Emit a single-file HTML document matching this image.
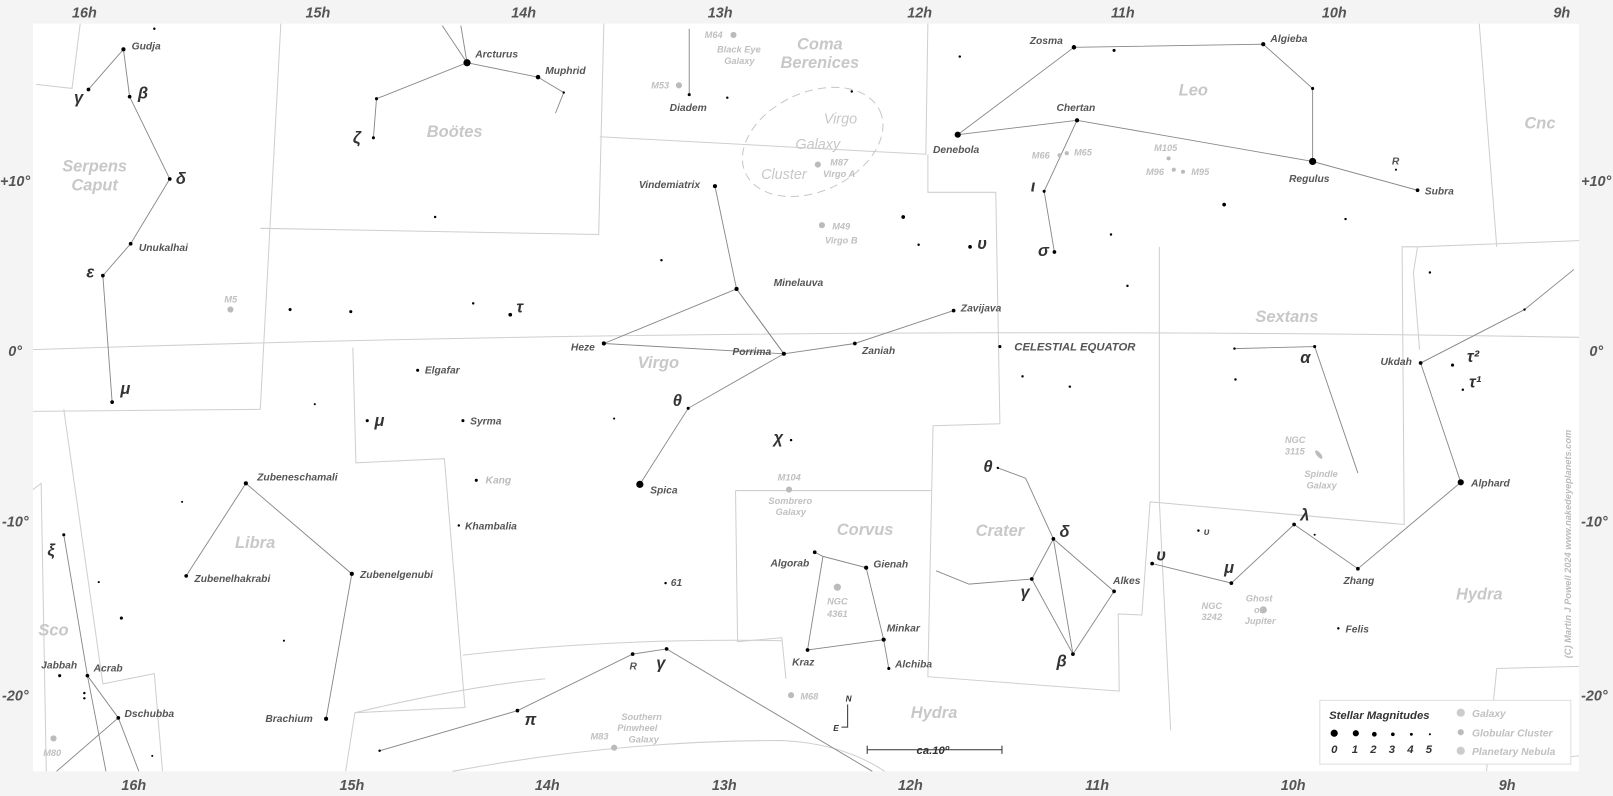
<!DOCTYPE html>
<html><head><meta charset="utf-8"><style>
html,body{margin:0;padding:0;background:#f4f4f4}
svg{display:block}
text{font-family:"Liberation Sans",sans-serif;font-style:italic;font-weight:bold}
.ax{font-size:14px;fill:#555}
.s{font-size:10px;fill:#555}
.c{font-size:16px;fill:#c8c8c8}
.g{font-size:9px;fill:#c0c0c0}
.gr{font-family:"Liberation Serif",serif;font-weight:normal;font-size:16px;fill:#333}
.b{stroke:#cfcfcf;stroke-width:1;fill:none}
.l{stroke:#888;stroke-width:0.9;fill:none}
</style></head><body>
<svg width="1613" height="796" viewBox="0 0 1568 774" preserveAspectRatio="none">
<rect x="0" y="0" width="1568" height="774" fill="#f4f4f4"/>
<rect x="32" y="23" width="1503" height="727" fill="#fff"/>
<!-- axis labels -->
<g class="ax">
<text x="70" y="17">16h</text><text x="297" y="17">15h</text><text x="497" y="17">14h</text><text x="688" y="17">13h</text><text x="882" y="17">12h</text><text x="1080" y="17">11h</text><text x="1285" y="17">10h</text><text x="1510" y="17">9h</text>
<text x="118" y="768">16h</text><text x="330" y="768">15h</text><text x="520" y="768">14h</text><text x="692" y="768">13h</text><text x="873" y="768">12h</text><text x="1055" y="768">11h</text><text x="1245" y="768">10h</text><text x="1457" y="768">9h</text>
<text x="0" y="181">+10°</text><text x="8" y="346">0°</text><text x="2" y="512">-10°</text><text x="2" y="681">-20°</text>
<text x="1537" y="181">+10°</text><text x="1545" y="346">0°</text><text x="1537" y="512">-10°</text><text x="1537" y="681">-20°</text>
</g>
<!-- constellation boundaries -->
<g class="b">
<path d="M32,340 Q780,315 1535,328"/>
<path d="M35,82 L70,86 L78,23"/>
<path d="M273,23 L253,398 L32,400"/>
<path d="M253,222 L582,228 L587,23"/>
<path d="M583,133 L900,150 L902,23"/>
<path d="M902,150 L902,187 L968,187 L972,412 L907,414 L902,658 L1088,672 L1087,597 L1110,598 L1118,488 L1365,510 L1363,240 L1378,240 L1535,234"/>
<path d="M1127,240 L1127,488 L1138,710"/>
<path d="M1378,240 L1374,265 L1380,340"/>
<path d="M1438,23 L1455,240"/>
<path d="M343,338 L346,450 L432,446 L452,688 L345,693 L336,750"/>
<path d="M62,398 L100,665 L150,655 L158,750"/>
<path d="M32,476 L40,470 L45,750"/>
<path d="M715,477 L905,477"/>
<path d="M715,477 L717,624 L760,620 L764,660"/>
<path d="M450,637 Q600,620 760,623"/>
<path d="M345,693 Q450,668 530,660"/>
<path d="M440,750 Q600,720 760,720 Q820,723 860,750"/>
<path d="M1455,650 L1535,648"/>
<path d="M1455,650 L1445,750"/>
<path d="M1480,740 L1535,735"/>
</g>
<!-- Virgo cluster ellipse -->
<ellipse cx="790" cy="138" rx="72" ry="48" transform="rotate(-25 790 138)" fill="none" stroke="#c8c8c8" stroke-dasharray="8,5"/>
<!-- constellation lines -->
<g class="l">
<path d="M86,87 L120,48 L126,94 L165,174 L127,237 L100,268 L109,391"/>
<path d="M363,134 L366,96 L454,61 L523,75 L548,90 L540,110"/>
<path d="M454,61 L430,25"/><path d="M454,61 L448,25"/>
<path d="M670,28 L670,92"/>
<path d="M931,131 L1044,46 L1228,43 L1276,86 L1276,157 L1378,185"/>
<path d="M931,131 L1047,117 L1276,157"/>
<path d="M1047,117 L1015,186 L1025,245"/>
<path d="M695,181 L716,281 L762,344 L587,334"/>
<path d="M716,281 L762,344"/>
<path d="M587,334 L716,281"/>
<path d="M762,344 L831,334 L927,302"/>
<path d="M762,344 L669,397 L622,471"/>
<path d="M792,537 L800,541 L842,552 L859,622 L864,650"/>
<path d="M800,541 L785,632 L859,622"/>
<path d="M970,455 L997,465 L1024,524 L1043,636 L1003,563 L942,568 L910,555"/>
<path d="M1024,524 L1083,575 L1043,636"/>
<path d="M1003,563 L1024,524"/>
<path d="M1200,339 L1278,337 L1320,460"/>
<path d="M1120,548 L1197,567 L1258,510 L1320,553 L1420,469 L1381,353 L1482,301 L1530,262"/>
<path d="M239,470 L181,560"/><path d="M239,470 L342,558 L317,699"/>
<path d="M62,520 L85,657 L103,750"/>
<path d="M85,657 L115,698 L55,750"/>
<path d="M115,698 L135,750"/>
<path d="M369,730 L503,691 L615,636 L648,631 L848,750"/>
</g>
<!-- stars -->
<g fill="#000">
<circle cx="120" cy="48" r="2"/><circle cx="86" cy="87" r="1.8"/><circle cx="126" cy="94" r="1.8"/><circle cx="165" cy="174" r="1.8"/><circle cx="127" cy="237" r="1.8"/><circle cx="100" cy="268" r="1.8"/><circle cx="109" cy="391" r="1.8"/><circle cx="150" cy="28" r="1.2"/>
<circle cx="454" cy="61" r="3.5"/><circle cx="523" cy="75" r="2.2"/><circle cx="548" cy="90" r="1.2"/><circle cx="366" cy="96" r="1.5"/><circle cx="363" cy="134" r="1.5"/><circle cx="423" cy="211" r="1.2"/>
<circle cx="670" cy="92" r="1.5"/><circle cx="707" cy="95" r="1.2"/><circle cx="828" cy="89" r="1.2"/><circle cx="933" cy="55" r="1.2"/>
<circle cx="931" cy="131" r="3"/><circle cx="1044" cy="46" r="2.2"/><circle cx="1083" cy="49" r="1.5"/><circle cx="1228" cy="43" r="2"/><circle cx="1276" cy="86" r="1.5"/><circle cx="1276" cy="157" r="3.5"/><circle cx="1378" cy="185" r="1.8"/><circle cx="1357" cy="165" r="1"/><circle cx="1047" cy="117" r="2"/><circle cx="1015" cy="186" r="1.5"/><circle cx="1025" cy="245" r="1.8"/><circle cx="1190" cy="199" r="1.8"/><circle cx="1308" cy="213" r="1.2"/><circle cx="1080" cy="228" r="1.2"/><circle cx="1096" cy="278" r="1.2"/><circle cx="1390" cy="265" r="1.2"/>
<circle cx="695" cy="181" r="2"/><circle cx="716" cy="281" r="2"/><circle cx="587" cy="334" r="2"/><circle cx="762" cy="344" r="2"/><circle cx="831" cy="334" r="1.8"/><circle cx="927" cy="302" r="1.8"/><circle cx="669" cy="397" r="1.5"/><circle cx="622" cy="471" r="3.5"/><circle cx="878" cy="211" r="1.8"/><circle cx="893" cy="238" r="1.2"/><circle cx="943" cy="240" r="1.8"/><circle cx="643" cy="253" r="1.2"/><circle cx="496" cy="306" r="1.8"/><circle cx="460" cy="295" r="1.2"/><circle cx="341" cy="303" r="1.5"/><circle cx="282" cy="301" r="1.5"/><circle cx="406" cy="360" r="1.5"/><circle cx="357" cy="409" r="1.5"/><circle cx="450" cy="409" r="1.5"/><circle cx="306" cy="393" r="1"/><circle cx="597" cy="407" r="1"/><circle cx="769" cy="428" r="1.2"/><circle cx="463" cy="467" r="1.5"/><circle cx="446" cy="511" r="1.2"/><circle cx="647" cy="567" r="1.2"/>
<circle cx="972" cy="337" r="1.5"/><circle cx="994" cy="366" r="1.2"/><circle cx="1040" cy="376" r="1.2"/><circle cx="1200" cy="339" r="1.2"/><circle cx="1278" cy="337" r="1.5"/><circle cx="1201" cy="369" r="1.2"/><circle cx="1381" cy="353" r="1.8"/><circle cx="1412" cy="355" r="1.5"/><circle cx="1422" cy="379" r="1.2"/><circle cx="1482" cy="301" r="1.2"/><circle cx="1420" cy="469" r="3"/>
<circle cx="792" cy="537" r="1.8"/><circle cx="842" cy="552" r="2"/><circle cx="859" cy="622" r="2"/><circle cx="785" cy="632" r="1.8"/><circle cx="864" cy="650" r="1.5"/>
<circle cx="970" cy="455" r="1.2"/><circle cx="1024" cy="524" r="1.8"/><circle cx="1003" cy="563" r="1.8"/><circle cx="1083" cy="575" r="1.8"/><circle cx="1043" cy="636" r="1.8"/>
<circle cx="1120" cy="548" r="1.8"/><circle cx="1197" cy="567" r="1.8"/><circle cx="1258" cy="510" r="1.8"/><circle cx="1278" cy="520" r="1"/><circle cx="1320" cy="553" r="1.8"/><circle cx="1301" cy="611" r="1.2"/><circle cx="1165" cy="516" r="1.2"/>
<circle cx="239" cy="470" r="2"/><circle cx="181" cy="560" r="1.8"/><circle cx="342" cy="558" r="2"/><circle cx="317" cy="699" r="2"/><circle cx="177" cy="488" r="1"/><circle cx="96" cy="566" r="1"/><circle cx="118" cy="601" r="1.5"/><circle cx="276" cy="623" r="1"/>
<circle cx="62" cy="520" r="1.5"/><circle cx="85" cy="657" r="1.8"/><circle cx="58" cy="657" r="1.5"/><circle cx="115" cy="698" r="1.8"/><circle cx="82" cy="674" r="1.2"/><circle cx="82" cy="679" r="1.2"/><circle cx="148" cy="735" r="1"/>
<circle cx="615" cy="636" r="1.8"/><circle cx="648" cy="631" r="1.8"/><circle cx="503" cy="691" r="1.8"/><circle cx="369" cy="730" r="1.2"/>
</g>
<!-- deep sky -->
<g fill="#bbb">
<circle cx="713" cy="34" r="3"/><circle cx="660" cy="83" r="3"/><circle cx="795" cy="160" r="3"/><circle cx="799" cy="219" r="3"/><circle cx="224" cy="301" r="3"/><circle cx="1030" cy="151" r="2"/><circle cx="1037" cy="149" r="2"/><circle cx="1136" cy="154" r="2"/><circle cx="1141" cy="165" r="2"/><circle cx="1150" cy="167" r="2"/><circle cx="767" cy="476" r="3"/><circle cx="814" cy="571" r="3.5"/><circle cx="769" cy="676" r="3"/><circle cx="597" cy="727" r="3"/><circle cx="1228" cy="593" r="3.5"/><circle cx="52" cy="718" r="3"/><ellipse cx="1282" cy="442" rx="2" ry="5" transform="rotate(-40 1282 442)"/>
</g>
<!-- star labels -->
<g class="s">
<text x="128" y="48">Gudja</text><text x="135" y="244">Unukalhai</text><text x="462" y="56">Arcturus</text><text x="530" y="72">Muphrid</text>
<text x="651" y="108">Diadem</text><text x="621" y="183">Vindemiatrix</text><text x="752" y="278">Minelauva</text><text x="555" y="341">Heze</text><text x="712" y="345">Porrima</text><text x="838" y="344">Zaniah</text><text x="934" y="303">Zavijava</text><text x="632" y="480">Spica</text><text x="413" y="363">Elgafar</text><text x="457" y="413">Syrma</text><text x="452" y="515">Khambalia</text><text x="652" y="570">61</text>
<text x="1001" y="43">Zosma</text><text x="1235" y="41">Algieba</text><text x="907" y="149">Denebola</text><text x="1027" y="108">Chertan</text><text x="1253" y="177">Regulus</text><text x="1385" y="189">Subra</text>
<text x="1342" y="355">Ukdah</text><text x="1430" y="473">Alphard</text><text x="1306" y="568">Zhang</text><text x="1308" y="615">Felis</text>
<text x="749" y="551">Algorab</text><text x="849" y="552">Gienah</text><text x="862" y="614">Minkar</text><text x="770" y="647">Kraz</text><text x="870" y="649">Alchiba</text><text x="1082" y="568">Alkes</text>
<text x="250" y="467">Zubeneschamali</text><text x="189" y="566">Zubenelhakrabi</text><text x="350" y="562">Zubenelgenubi</text><text x="258" y="702">Brachium</text>
<text x="40" y="650">Jabbah</text><text x="91" y="653">Acrab</text><text x="121" y="697">Dschubba</text>
<text x="986" y="341" style="font-size:11px">CELESTIAL EQUATOR</text>
<text x="612" y="651">R</text><text x="1353" y="160">R</text>
</g>
<g class="s" style="fill:#bbb"><text x="472" y="470">Kang</text><text x="1170" y="520" style="fill:#555">υ</text></g>
<!-- Greek -->
<g class="gr">
<text x="72" y="100">γ</text><text x="134" y="96">β</text><text x="171" y="179">δ</text><text x="84" y="270">ε</text><text x="117" y="383">μ</text>
<text x="343" y="139">ζ</text><text x="502" y="304">τ</text><text x="364" y="414">μ</text><text x="654" y="395">θ</text><text x="752" y="431">χ</text><text x="950" y="242">υ</text>
<text x="1002" y="186">ι</text><text x="1009" y="249">σ</text><text x="1264" y="353">α</text><text x="1426" y="352">τ²</text><text x="1428" y="377">τ¹</text>
<text x="956" y="459">θ</text><text x="1030" y="522">δ</text><text x="992" y="581">γ</text><text x="1027" y="648">β</text><text x="1124" y="545">υ</text><text x="1190" y="557">μ</text><text x="1264" y="506">λ</text>
<text x="46" y="540">ξ</text><text x="638" y="650">γ</text><text x="510" y="705">π</text>
</g>
<!-- constellation names -->
<g class="c" text-anchor="middle">
<text x="442" y="133">Boötes</text><text x="92" y="167">Serpens</text><text x="92" y="185">Caput</text><text x="797" y="48">Coma</text><text x="797" y="66">Berenices</text>
<text x="1160" y="93">Leo</text><text x="1497" y="125">Cnc</text><text x="640" y="358">Virgo</text><text x="1251" y="313">Sextans</text>
<text x="248" y="533">Libra</text><text x="841" y="520">Corvus</text><text x="972" y="521">Crater</text><text x="1438" y="583">Hydra</text><text x="908" y="698">Hydra</text><text x="52" y="618">Sco</text>
<text x="817" y="120" style="font-size:14px;font-weight:normal">Virgo</text><text x="795" y="145" style="font-size:14px;font-weight:normal">Galaxy</text><text x="762" y="174" style="font-size:14px;font-weight:normal">Cluster</text>
</g>
<g class="g">
<text x="685" y="37">M64</text><text x="697" y="51">Black Eye</text><text x="704" y="62">Galaxy</text><text x="633" y="86">M53</text>
<text x="807" y="161">M87</text><text x="800" y="172">Virgo A</text><text x="809" y="223">M49</text><text x="802" y="237">Virgo B</text><text x="218" y="294">M5</text>
<text x="1003" y="154">M66</text><text x="1044" y="151">M65</text><text x="1122" y="147">M105</text><text x="1114" y="170">M96</text><text x="1158" y="170">M95</text>
<text x="756" y="467">M104</text><text x="747" y="490">Sombrero</text><text x="754" y="501">Galaxy</text><text x="804" y="588">NGC</text><text x="804" y="600">4361</text><text x="778" y="680">M68</text>
<text x="604" y="700">Southern</text><text x="600" y="711">Pinwheel</text><text x="611" y="722">Galaxy</text><text x="574" y="719">M83</text>
<text x="1249" y="431">NGC</text><text x="1249" y="442">3115</text><text x="1268" y="464">Spindle</text><text x="1270" y="475">Galaxy</text>
<text x="1168" y="592">NGC</text><text x="1168" y="603">3242</text><text x="1211" y="585">Ghost</text><text x="1219" y="596">of</text><text x="1210" y="607">Jupiter</text><text x="42" y="735">M80</text>
</g>
<text transform="translate(1527,640) rotate(-90)" style="font-size:9px;fill:#bbb">(C) Martin J Powell  2024   www.nakedeyeplanets.com</text>
<!-- compass & scale -->
<g stroke="#333" fill="none"><path d="M824,685 L824,707 L818,707"/><path d="M843,729 L974,729 M843,725 L843,733 M974,725 L974,733"/></g>
<text x="822" y="682" style="font-size:8px;fill:#333">N</text><text x="810" y="711" style="font-size:8px;fill:#333">E</text>
<text x="891" y="733" style="font-size:11px;fill:#333;font-weight:bold">ca.10º</text>
<!-- legend -->
<rect x="1283" y="681" width="244" height="62" fill="#fff" stroke="#ddd"/>
<text x="1292" y="699" style="font-size:11px;fill:#333">Stellar Magnitudes</text>
<g fill="#000"><circle cx="1297" cy="713" r="3.5"/><circle cx="1318" cy="713" r="3"/><circle cx="1336" cy="714" r="2.3"/><circle cx="1354" cy="714" r="1.8"/><circle cx="1372" cy="714" r="1.4"/><circle cx="1390" cy="714" r="1"/></g>
<g style="font-size:11px;fill:#333"><text x="1294" y="732">0</text><text x="1314" y="732">1</text><text x="1332" y="732">2</text><text x="1350" y="732">3</text><text x="1368" y="732">4</text><text x="1386" y="732">5</text></g>
<circle cx="1420" cy="693" r="4" fill="#ccc"/><circle cx="1420" cy="712" r="3" fill="#bbb"/><circle cx="1420" cy="730" r="4" fill="#ccc"/>
<g class="g" style="font-size:10px"><text x="1431" y="697">Galaxy</text><text x="1431" y="716">Globular Cluster</text><text x="1431" y="734">Planetary Nebula</text></g>
</svg>
</body></html>
